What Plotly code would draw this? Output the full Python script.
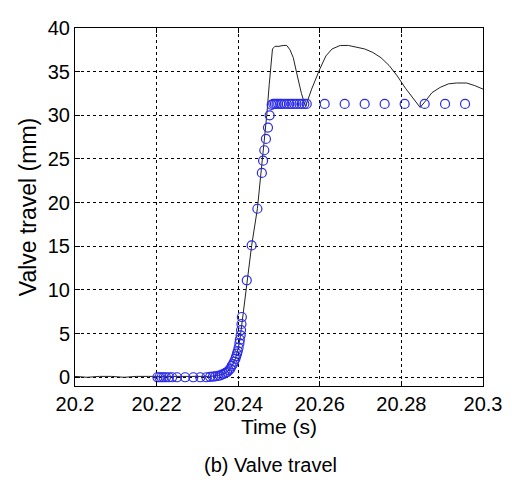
import plotly.graph_objects as go

# Simulated valve travel (black line)
line_t = [20.2000, 20.2030, 20.2060, 20.2090, 20.2120, 20.2150, 20.2180, 20.2200,
          20.2250, 20.2300, 20.2330, 20.2350, 20.2365, 20.2375, 20.2385, 20.2393,
          20.2400, 20.2405, 20.2410, 20.2421, 20.2433, 20.2447, 20.2460, 20.2470,
          20.2476, 20.2484, 20.2490, 20.2500, 20.2510, 20.2519, 20.2527, 20.2535,
          20.2545, 20.2555, 20.2565, 20.2580, 20.2600, 20.2615, 20.2630, 20.2650,
          20.2670, 20.2690, 20.2710, 20.2730, 20.2750, 20.2770, 20.2790, 20.2810,
          20.2830, 20.2846, 20.2860, 20.2875, 20.2895, 20.2915, 20.2935, 20.2960,
          20.2980, 20.3000]
line_v = [0.1, 0.0, 0.1, 0.1, 0.0, 0.1, 0.1, 0.1,
          0.1, 0.1, 0.1, 0.2, 0.4, 0.7, 1.3, 2.1,
          3.3, 4.6, 6.5, 11.1, 15.1, 19.3, 25.2, 30.0,
          33.5, 37.6, 37.9, 37.9, 38.0, 38.0, 37.5, 36.6,
          34.5, 32.5, 31.0, 33.0, 35.3, 36.8, 37.6, 38.0,
          38.0, 37.8, 37.6, 37.2, 36.6, 35.7, 34.5, 33.1,
          31.8, 30.9, 31.7, 32.6, 33.2, 33.6, 33.7, 33.7,
          33.4, 33.0]

# Measured valve travel (blue circles)
pts_t = [20.2202, 20.2207, 20.2212, 20.2217, 20.2223, 20.2230, 20.2238, 20.2250,
         20.2270, 20.2290, 20.2307, 20.2322,
         20.2331, 20.2338, 20.2344, 20.2350, 20.2355, 20.2360, 20.2365, 20.2369,
         20.2373, 20.2377, 20.2381, 20.2384, 20.2387, 20.2390, 20.2393, 20.2395,
         20.2397, 20.2399, 20.2401, 20.2403, 20.2404, 20.2406, 20.2407, 20.2408,
         20.2409,
         20.2421, 20.2433, 20.2447, 20.2458, 20.2461, 20.2464, 20.2468, 20.2473,
         20.2477, 20.2482,
         20.2486, 20.2490, 20.2494, 20.2498, 20.2503, 20.2507, 20.2513, 20.2519,
         20.2525, 20.2531, 20.2537, 20.2543, 20.2550, 20.2556, 20.2562, 20.2568,
         20.2612, 20.2661, 20.2710, 20.2759, 20.2808, 20.2857, 20.2907, 20.2956]
pts_v = [0.0, 0.0, 0.0, 0.0, 0.0, 0.0, 0.0, 0.0,
         0.0, 0.0, 0.0, 0.0,
         0.05, 0.08, 0.1, 0.15, 0.2, 0.3, 0.4, 0.5,
         0.6, 0.8, 1.0, 1.3, 1.5, 1.8, 2.1, 2.4,
         2.7, 3.0, 3.4, 3.9, 4.3, 4.8, 5.4, 6.1,
         6.9,
         11.1, 15.1, 19.3, 23.4, 24.8, 26.0, 27.3, 28.6,
         30.0, 31.2,
         31.3, 31.3, 31.3, 31.3, 31.3, 31.3, 31.3, 31.3,
         31.3, 31.3, 31.3, 31.3, 31.3, 31.3, 31.3, 31.3,
         31.3, 31.3, 31.3, 31.3, 31.3, 31.3, 31.3, 31.3]

x_ticks = [20.2, 20.22, 20.24, 20.26, 20.28, 20.3]
x_labels = ["20.2", "20.22", "20.24", "20.26", "20.28", "20.3"]
y_ticks = [0, 5, 10, 15, 20, 25, 30, 35, 40]

FONT = "Liberation Sans, Arial, sans-serif"

fig = go.Figure()
fig.add_trace(go.Scatter(x=line_t, y=line_v, mode="lines",
                         line=dict(color="#222222", width=1), showlegend=False))
fig.add_trace(go.Scatter(x=pts_t, y=pts_v, mode="markers",
                         marker=dict(symbol="circle-open", size=9,
                                     color="#2a2ae8", line=dict(width=1.2)),
                         showlegend=False))

axis_common = dict(showline=True, linecolor="black", linewidth=1, mirror="ticks",
                   ticks="inside", ticklen=5, tickcolor="black",
                   showgrid=True, gridcolor="black", griddash="dot", gridwidth=1,
                   zeroline=False, ticklabeloverflow="allow",
                   tickfont=dict(family=FONT, size=20, color="black"))

fig.update_xaxes(range=[20.2, 20.3], tickvals=x_ticks, ticktext=x_labels,
                 title=dict(text="Time (s)", font=dict(family=FONT, size=21, color="black"),
                            standoff=4),
                 **axis_common)
fig.update_yaxes(range=[-1, 40], tickvals=y_ticks,
                 title=dict(text="Valve travel (mm)", font=dict(family=FONT, size=23, color="black"),
                            standoff=4),
                 **axis_common)

fig.add_annotation(text="(b) Valve travel", xref="paper", yref="paper",
                   x=0.48, y=-0.22, xanchor="center", yanchor="middle",
                   showarrow=False, font=dict(family=FONT, size=20, color="black"))

# page body has an 8px margin, so the figure is sized to fit the 512x482 window
fig.update_layout(width=504, height=474, margin=dict(l=67, r=29, t=9, b=96),
                  plot_bgcolor="white", paper_bgcolor="white")

fig.write_html("out.html")
